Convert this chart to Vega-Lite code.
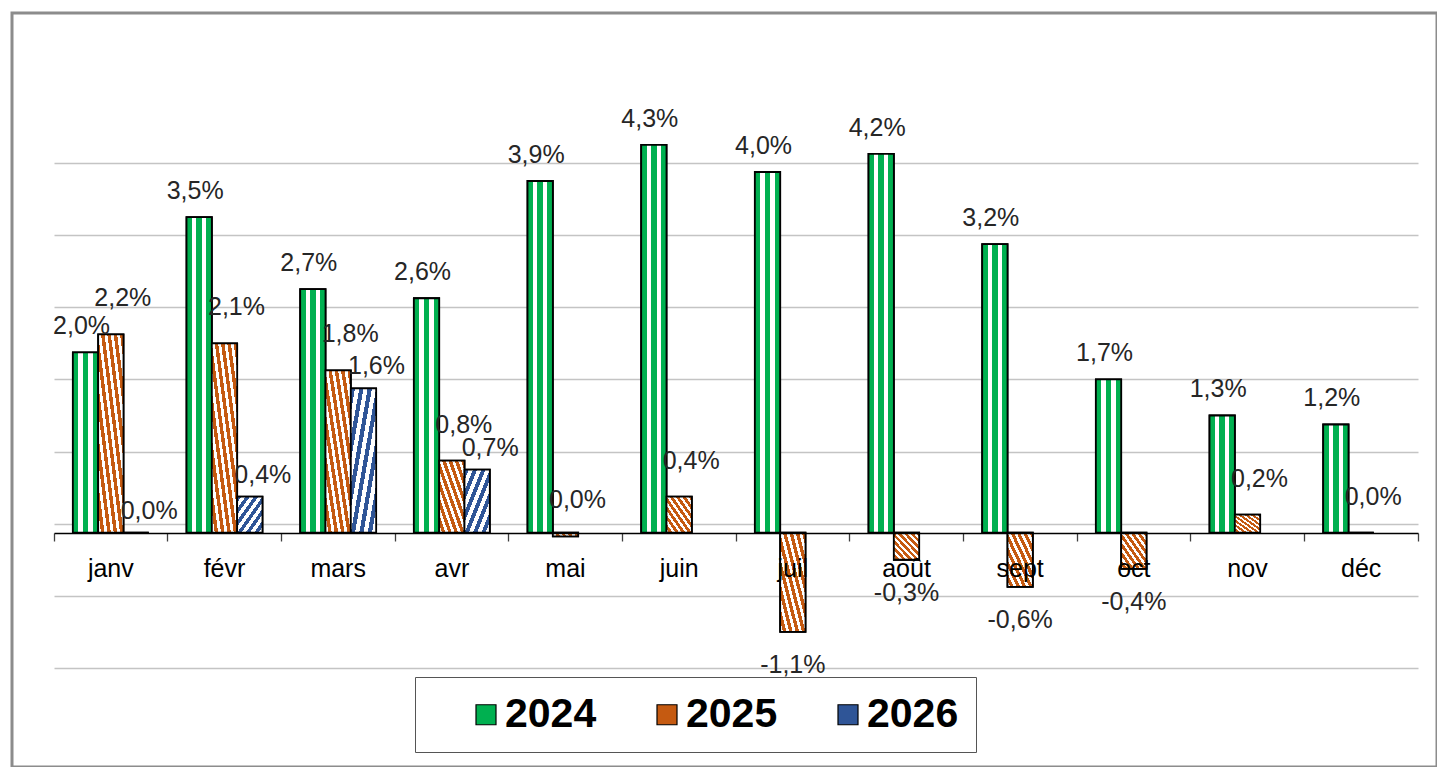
{
  "$schema": "https://vega.github.io/schema/vega-lite/v6.json",
  "width": 1425,
  "height": 754,
  "autosize": {"type": "none"},
  "padding": {"left": 12, "top": 13, "right": 0, "bottom": 0},
  "background": "white",
  "config": {
    "locale": {"number": {"decimal": ",", "thousands": " ", "grouping": [3], "currency": ["", " €"], "minus": "-"}},
    "view": {"stroke": "#8c8c8c", "strokeWidth": 3},
    "font": "Liberation Sans"
  },
  "data": {
    "values": [
      {"m": "janv", "y": "2024", "v": 0.020},
      {"m": "févr", "y": "2024", "v": 0.035},
      {"m": "mars", "y": "2024", "v": 0.027},
      {"m": "avr", "y": "2024", "v": 0.026},
      {"m": "mai", "y": "2024", "v": 0.039},
      {"m": "juin", "y": "2024", "v": 0.043},
      {"m": "juil", "y": "2024", "v": 0.040},
      {"m": "août", "y": "2024", "v": 0.042},
      {"m": "sept", "y": "2024", "v": 0.032},
      {"m": "oct", "y": "2024", "v": 0.017},
      {"m": "nov", "y": "2024", "v": 0.013},
      {"m": "déc", "y": "2024", "v": 0.012},
      {"m": "janv", "y": "2025", "v": 0.022},
      {"m": "févr", "y": "2025", "v": 0.021},
      {"m": "mars", "y": "2025", "v": 0.018},
      {"m": "avr", "y": "2025", "v": 0.008},
      {"m": "mai", "y": "2025", "v": -0.0004},
      {"m": "juin", "y": "2025", "v": 0.004},
      {"m": "juil", "y": "2025", "v": -0.011},
      {"m": "août", "y": "2025", "v": -0.003},
      {"m": "sept", "y": "2025", "v": -0.006},
      {"m": "oct", "y": "2025", "v": -0.004},
      {"m": "nov", "y": "2025", "v": 0.002},
      {"m": "déc", "y": "2025", "v": 0.0},
      {"m": "janv", "y": "2026", "v": 0.0},
      {"m": "févr", "y": "2026", "v": 0.004},
      {"m": "mars", "y": "2026", "v": 0.016},
      {"m": "avr", "y": "2026", "v": 0.007}
    ]
  },
  "layer": [
    {
      "mark": {"type": "bar", "stroke": "black", "strokeWidth": 1.8},
      "encoding": {
        "x": {
          "field": "m", "type": "nominal",
          "sort": ["janv","févr","mars","avr","mai","juin","juil","août","sept","oct","nov","déc"],
          "scale": {"range": [42, 1406], "paddingInner": 0, "paddingOuter": 0},
          "axis": {
            "title": null, "orient": "bottom", "offset": -234,
            "bandPosition": 1, "tickExtra": true, "tickSize": 8,
            "tickColor": "#404040", "tickWidth": 1.3,
            "domainColor": "black", "domainWidth": 1.5,
            "labelFontSize": 25, "labelColor": "black", "labelFont": "Liberation Sans",
            "labelPadding": 15, "labelAngle": 0, "grid": false, "zindex": 1
          }
        },
        "xOffset": {"field": "y", "type": "nominal", "scale": {"paddingInner": 0, "paddingOuter": 0.745}},
        "y": {
          "field": "v", "type": "quantitative",
          "scale": {"domain": [-0.02598, 0.05763], "nice": false, "zero": false},
          "axis": {
            "title": null,
            "values": [-0.015, -0.007, 0.001, 0.009, 0.017, 0.025, 0.033, 0.041],
            "labels": false, "ticks": false, "domain": false,
            "grid": true, "gridColor": "#c4c4c4", "gridWidth": 1.3, "zindex": 0
          }
        },
        "fill": {
          "field": "y", "type": "nominal",
          "scale": {"domain": ["2024", "2025", "2026"], "range": ["#00b050", "#c55a11", "#2f5597"]},
          "legend": {
            "title": null, "orient": "none", "legendX": 403, "legendY": 664,
            "direction": "horizontal", "columns": 3, "columnPadding": 16,
            "symbolType": "square", "symbolSize": 400,
            "symbolStrokeColor": "black", "symbolStrokeWidth": 1.2,
            "symbolOffset": 33.5, "labelOffset": -1.5,
            "labelFontSize": 41, "labelFontWeight": "bold", "labelColor": "black",
            "labelFont": "Liberation Sans", "labelLimit": 300,
            "padding": 17, "strokeColor": "#555555", "fillColor": "white"
          }
        }
      }
    },
    {
      "mark": {"type": "bar", "stroke": "black", "strokeWidth": 1.8},
      "encoding": {
        "x": {"field": "m", "type": "nominal", "sort": ["janv","févr","mars","avr","mai","juin","juil","août","sept","oct","nov","déc"]},
        "xOffset": {"field": "y", "type": "nominal"},
        "y": {"field": "v", "type": "quantitative"},
        "fill": {
          "condition": [
            {"test": "datum.y === '2024'", "value": {"gradient": "linear", "x1": 0, "y1": 0, "x2": 1, "y2": 0, "stops": [
              {"offset": 0, "color": "#00b050"}, {"offset": 0.22, "color": "#00b050"},
              {"offset": 0.22, "color": "#ffffff"}, {"offset": 0.39, "color": "#ffffff"},
              {"offset": 0.39, "color": "#00b050"}, {"offset": 0.61, "color": "#00b050"},
              {"offset": 0.61, "color": "#ffffff"}, {"offset": 0.78, "color": "#ffffff"},
              {"offset": 0.78, "color": "#00b050"}, {"offset": 1, "color": "#00b050"}]}},
            {"test": "datum.y === '2025'", "value": {"gradient": "linear", "x1": 1, "y1": 0, "x2": 0, "y2": 1, "stops": [
              {"offset": 0, "color": "#c55a11"}, {"offset": 0.069, "color": "#c55a11"},
              {"offset": 0.069, "color": "#ffffff"}, {"offset": 0.125, "color": "#ffffff"},
              {"offset": 0.125, "color": "#c55a11"}, {"offset": 0.194, "color": "#c55a11"},
              {"offset": 0.194, "color": "#ffffff"}, {"offset": 0.25, "color": "#ffffff"},
              {"offset": 0.25, "color": "#c55a11"}, {"offset": 0.319, "color": "#c55a11"},
              {"offset": 0.319, "color": "#ffffff"}, {"offset": 0.375, "color": "#ffffff"},
              {"offset": 0.375, "color": "#c55a11"}, {"offset": 0.444, "color": "#c55a11"},
              {"offset": 0.444, "color": "#ffffff"}, {"offset": 0.5, "color": "#ffffff"},
              {"offset": 0.5, "color": "#c55a11"}, {"offset": 0.569, "color": "#c55a11"},
              {"offset": 0.569, "color": "#ffffff"}, {"offset": 0.625, "color": "#ffffff"},
              {"offset": 0.625, "color": "#c55a11"}, {"offset": 0.694, "color": "#c55a11"},
              {"offset": 0.694, "color": "#ffffff"}, {"offset": 0.75, "color": "#ffffff"},
              {"offset": 0.75, "color": "#c55a11"}, {"offset": 0.819, "color": "#c55a11"},
              {"offset": 0.819, "color": "#ffffff"}, {"offset": 0.875, "color": "#ffffff"},
              {"offset": 0.875, "color": "#c55a11"}, {"offset": 0.944, "color": "#c55a11"},
              {"offset": 0.944, "color": "#ffffff"}, {"offset": 1, "color": "#ffffff"}]}}
          ],
          "value": {"gradient": "linear", "x1": 0, "y1": 0, "x2": 1, "y2": 1, "stops": [
            {"offset": 0, "color": "#2f5597"}, {"offset": 0.083, "color": "#2f5597"},
            {"offset": 0.083, "color": "#ffffff"}, {"offset": 0.167, "color": "#ffffff"},
            {"offset": 0.167, "color": "#2f5597"}, {"offset": 0.25, "color": "#2f5597"},
            {"offset": 0.25, "color": "#ffffff"}, {"offset": 0.333, "color": "#ffffff"},
            {"offset": 0.333, "color": "#2f5597"}, {"offset": 0.417, "color": "#2f5597"},
            {"offset": 0.417, "color": "#ffffff"}, {"offset": 0.5, "color": "#ffffff"},
            {"offset": 0.5, "color": "#2f5597"}, {"offset": 0.583, "color": "#2f5597"},
            {"offset": 0.583, "color": "#ffffff"}, {"offset": 0.667, "color": "#ffffff"},
            {"offset": 0.667, "color": "#2f5597"}, {"offset": 0.75, "color": "#2f5597"},
            {"offset": 0.75, "color": "#ffffff"}, {"offset": 0.833, "color": "#ffffff"},
            {"offset": 0.833, "color": "#2f5597"}, {"offset": 0.917, "color": "#2f5597"},
            {"offset": 0.917, "color": "#ffffff"}, {"offset": 1, "color": "#ffffff"}]}
        }
      }
    },
    {
      "transform": [{"filter": "datum.y == '2024'"}],
      "mark": {"type": "text", "font": "Liberation Sans", "fontSize": 25, "color": "#262626", "baseline": "middle", "dy": -26, "dx": -4},
      "encoding": {
        "x": {"field": "m", "type": "nominal", "sort": ["janv","févr","mars","avr","mai","juin","juil","août","sept","oct","nov","déc"]},
        "xOffset": {"field": "y", "type": "nominal"},
        "y": {"field": "v", "type": "quantitative"},
        "text": {"field": "v", "type": "quantitative", "format": ".1%"}
      }
    },
    {
      "transform": [{"filter": "datum.y == '2025' && datum.v >= -0.0005"}],
      "mark": {"type": "text", "font": "Liberation Sans", "fontSize": 25, "color": "#262626", "baseline": "middle", "dy": -36, "dx": 12},
      "encoding": {
        "x": {"field": "m", "type": "nominal", "sort": ["janv","févr","mars","avr","mai","juin","juil","août","sept","oct","nov","déc"]},
        "xOffset": {"field": "y", "type": "nominal"},
        "y": {"field": "v", "type": "quantitative"},
        "text": {"field": "v", "type": "quantitative", "format": ".1%"}
      }
    },
    {
      "transform": [{"filter": "datum.y == '2025' && datum.v < -0.0005"}],
      "mark": {"type": "text", "font": "Liberation Sans", "fontSize": 25, "color": "#262626", "baseline": "middle", "dy": 33, "dx": 0},
      "encoding": {
        "x": {"field": "m", "type": "nominal", "sort": ["janv","févr","mars","avr","mai","juin","juil","août","sept","oct","nov","déc"]},
        "xOffset": {"field": "y", "type": "nominal"},
        "y": {"field": "v", "type": "quantitative"},
        "text": {"field": "v", "type": "quantitative", "format": ".1%"}
      }
    },
    {
      "transform": [{"filter": "datum.y == '2026'"}],
      "mark": {"type": "text", "font": "Liberation Sans", "fontSize": 25, "color": "#262626", "baseline": "middle", "dy": -22, "dx": 13},
      "encoding": {
        "x": {"field": "m", "type": "nominal", "sort": ["janv","févr","mars","avr","mai","juin","juil","août","sept","oct","nov","déc"]},
        "xOffset": {"field": "y", "type": "nominal"},
        "y": {"field": "v", "type": "quantitative"},
        "text": {"field": "v", "type": "quantitative", "format": ".1%"}
      }
    }
  ]
}
